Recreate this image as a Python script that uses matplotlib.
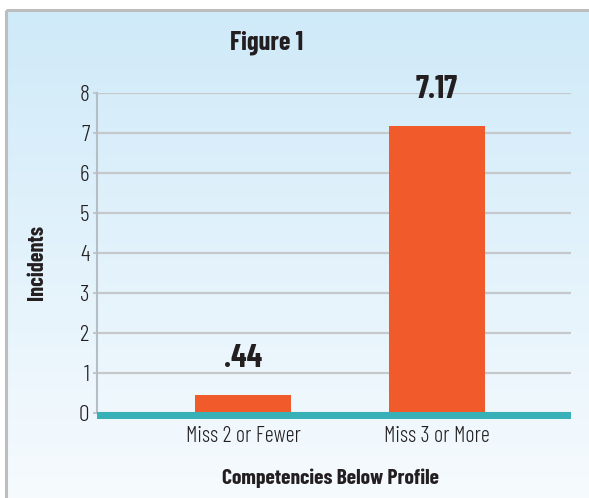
import numpy as np
import matplotlib
matplotlib.use("Agg")
import matplotlib.pyplot as plt
from matplotlib import font_manager

categories = ["Miss 2 or Fewer", "Miss 3 or More"]
values = [0.44, 7.17]
value_labels = [".44", "7.17"]
yticks = [0, 1, 2, 3, 4, 5, 6, 7, 8]
title = "Figure 1"
xlabel = "Competencies Below Profile"
ylabel = "Incidents"

names = {f.name for f in font_manager.fontManager.ttflist}
FONT = "Liberation Sans"
for cand in ["Barlow Condensed", "Asap Condensed", "Archivo Narrow"]:
    if cand in names:
        FONT = cand
        break
plt.rcParams["font.family"] = [FONT, "DejaVu Sans"]

W, H = 589, 498
fig = plt.figure(figsize=(W / 100, H / 100), dpi=100)

# background panel with gradient and border
bg = fig.add_axes([0, 0, 1, 1], zorder=0)
top = np.array([207, 234, 249]) / 255
bot = np.array([247, 251, 254]) / 255
t = np.linspace(0, 1, 256)[:, None]
img = (top[None, :] * (1 - t) + bot[None, :] * t)[:, None, :]
bg.imshow(img, extent=(6, W + 10, H + 10, 10), aspect="auto", interpolation="bilinear")
bg.plot([6, 6], [H + 10, 10], color="#BDBDBD", lw=2.2, solid_capstyle="butt")
bg.plot([6, W + 10], [10, 10], color="#BDBDBD", lw=2.2, solid_capstyle="butt")
bg.set_xlim(0, W)
bg.set_ylim(H, 0)
bg.axis("off")

# main axes: x 97..571 px, y 93..419.4 px
left = 97 / W
right = 571 / W
ax_top = 1 - 93 / H
ax_bot = 1 - 419.4 / H
ax = fig.add_axes([left, ax_bot, right - left, ax_top - ax_bot], zorder=1)
ax.set_facecolor("none")

x = np.arange(len(categories))
ax.bar(x, values, width=0.495, color="#F15A2B", zorder=3)
ax.axhspan(-0.17, 0.02, color="#38B0B8", zorder=4, lw=0)

ax.set_xlim(-0.753, 1.69)
ax.set_ylim(-0.165, 8)
ax.set_yticks(yticks)
ax.set_yticklabels([str(v) for v in yticks], fontsize=17, fontweight=300, color="#231F20")
ax.set_xticks(x)
ax.set_xticklabels(categories, fontsize=16, fontweight=300, color="#231F20")
ax.tick_params(axis="y", length=3, width=1.5, color="#C3C7CB", pad=2.5)
ax.tick_params(axis="x", length=0, pad=5)
ax.yaxis.grid(True, color="#C6C9CC", lw=1.6)
ax.set_axisbelow(True)
for s in ["top", "right", "bottom"]:
    ax.spines[s].set_visible(False)
ax.spines["left"].set_color("#B6BEC5")
ax.spines["left"].set_linewidth(1.5)
ax.spines["left"].set_bounds(0, 8)

for xi, v, lab in zip(x, values, value_labels):
    ax.annotate(lab, (xi, v), xytext=(0, 16), textcoords="offset points",
                ha="center", va="bottom", fontsize=23, fontweight="bold",
                color="#231F20", zorder=5)

fig.text(267 / W, 1 - 43 / H, title, ha="center", va="center",
         fontsize=19, fontweight="bold", color="#231F20")
fig.text(330 / W, 1 - 478 / H, xlabel, ha="center", va="center",
         fontsize=15.5, fontweight="bold", color="#231F20")
fig.text(37 / W, 1 - 263 / H, ylabel, ha="center", va="center", rotation=90,
         fontsize=16, fontweight="bold", color="#231F20")

fig.savefig("out.png", dpi=100)
